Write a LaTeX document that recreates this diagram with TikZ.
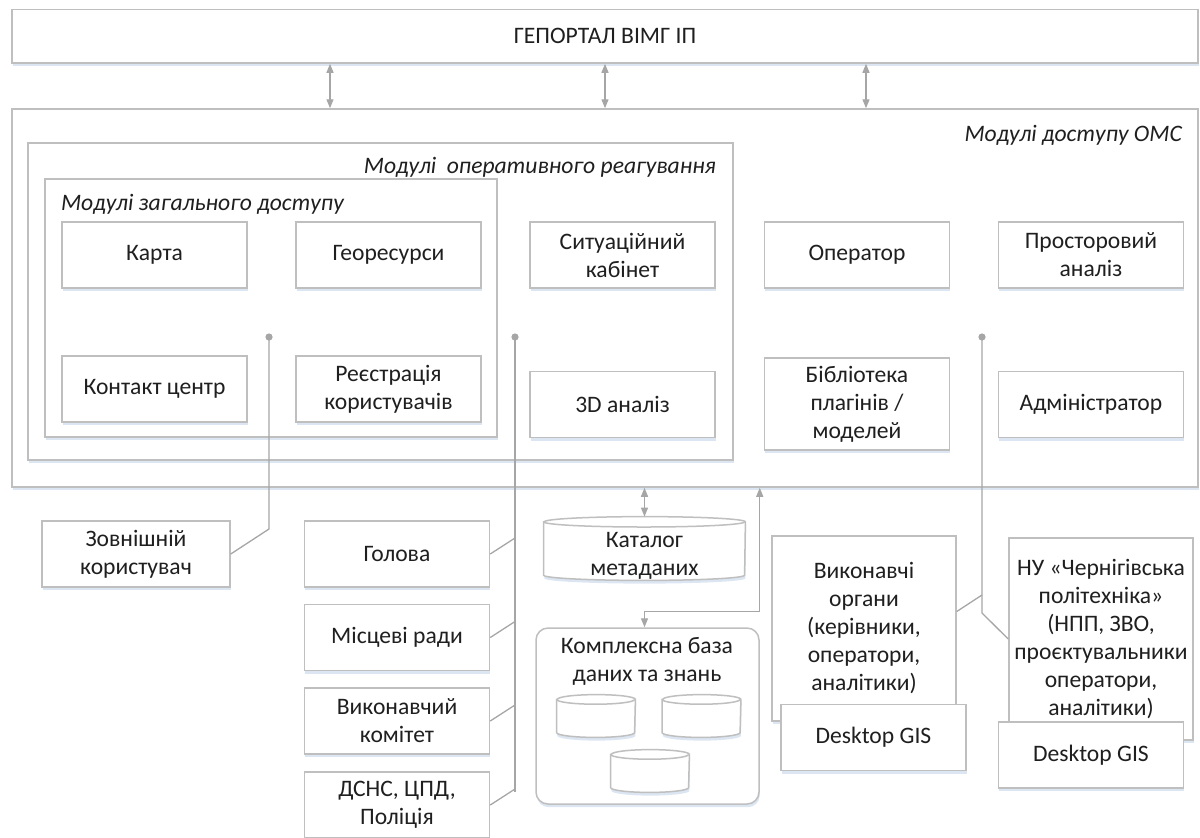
\documentclass[tikz,border=0pt]{standalone}
\usepackage{fontspec}
\setmainfont{Carlito}
\usetikzlibrary{positioning, arrows.meta, calc, shadows}
\definecolor{edge}{HTML}{BFBFBF}
\definecolor{wire}{HTML}{A6A6A6}
\definecolor{txt}{HTML}{1F1F1F}
\definecolor{glow}{HTML}{DCE6F2}

% drum: name, position, width, height, end radius, text
\newcommand{\drum}[6]{%
  \node[minimum width=#3, minimum height=#4, inner sep=0pt] (#1) at (#2) {};
  \filldraw[fill=white, draw=edge, line width=0.75pt, shd]
    ([yshift=-#5]#1.north west) -- ([yshift=#5]#1.south west)
    arc[start angle=180, end angle=360, x radius=#3/2, y radius=#5]
    -- ([yshift=-#5]#1.north east)
    arc[start angle=0, end angle=180, x radius=#3/2, y radius=#5] -- cycle;
  \draw[edge, line width=0.75pt] ([yshift=-#5]#1.north west)
    arc[start angle=180, end angle=360, x radius=#3/2, y radius=#5];
  \node[align=center] (#1-t) at ([yshift=-3.5pt]#1.center) {#6};
}

\begin{document}
\begin{tikzpicture}[x=0.5pt, y=-0.5pt, font=\fontsize{11.8}{14}\selectfont, text=txt,
  shd/.style={drop shadow={shadow xshift=0.4pt, shadow yshift=-1.6pt, fill=glow, opacity=1}},
  frame/.style={draw=edge, line width=0.75pt, fill=white, shd, inner sep=0pt},
  m/.style={frame, minimum width=92.5pt, minimum height=33pt, align=center},
  grp/.style={font=\fontsize{11.8}{14}\selectfont\itshape},
  ln/.style={wire, line width=0.65pt},
  dbl/.style={ln, {Triangle[length=4.5pt,width=3.5pt]}-{Triangle[length=4.5pt,width=3.5pt]}},
  dot/.style={circle, fill=wire, inner sep=0pt, minimum size=3.6pt}
]
  \useasboundingbox (0,0) rectangle (1200,837);

  % containers
  \node[frame, minimum width=593pt, minimum height=26.75pt] (portal) at (605,36.25) {ГЕПОРТАЛ ВІМГ ІП};
  \node[frame, minimum width=593pt, minimum height=189pt] (oms) at (605,298) {};
  \node[frame, minimum width=352.5pt, minimum height=158.5pt] (oper) at (380.5,301.5) {};
  \node[frame, minimum width=226pt, minimum height=129pt] (gen) at (271,308) {};

  \node[grp, anchor=east] (omsl) at (1189,135) {Модулі доступу ОМС};
  \node[grp, anchor=east] (operl) at (723,167) {Модулі\ \ оперативного реагування};
  \node[grp, anchor=west] (genl) at (54,204) {Модулі загального доступу};

  % modules
  \node[m] (map) at (154.5,255) {Карта};
  \node[m] (geo) at (388.5,255) {Георесурси};
  \node[m] (cc) at (154.5,389) {Контакт центр};
  \node[m] (reg) at (388.5,389) {Реєстрація\\користувачів};
  \node[m] (sit) at (622.5,255) {Ситуаційний\\кабінет};
  \node[m] (an3d) at (622.5,404.5) {3D аналіз};
  \node[m] (op) at (857,255) {Оператор};
  \node[m, minimum height=46pt] (lib) at (857,404) {Бібліотека\\плагінів /\\моделей};
  \node[m] (spa) at (1091,255) {Просторовий\\аналіз};
  \node[m] (adm) at (1091,404.5) {Адміністратор};

  % users
  \node[m, minimum width=94pt] (ext) at (136,554) {Зовнішній\\користувач};
  \node[m] (hol) at (397,554) {Голова};
  \node[m] (mis) at (397,637.5) {Місцеві ради};
  \node[m] (vk) at (397,721) {Виконавчий\\комітет};
  \node[m] (dsns) at (397,805) {ДСНС, ЦПД,\\Поліція};

  % data
  \drum{cat}{644.5,548.5}{100.5pt}{31.5pt}{2.6pt}{Каталог\\метаданих}
  \node[frame, rounded corners=6pt, minimum width=111.5pt, minimum height=88pt] (kb) at (647.5,716) {};
  \node[align=center] (kbl) at (647,661) {Комплексна база\\даних та знань};
  \drum{db1}{596,716}{39pt}{21pt}{2.4pt}{}
  \drum{db2}{701.5,716}{39pt}{21pt}{2.4pt}{}
  \drum{db3}{650,771}{39pt}{21pt}{2.4pt}{}

  % executors
  \node[m, minimum width=92pt, minimum height=92.5pt] (vo) at (864,628.5)
    {Виконавчі\\органи\\(керівники,\\оператори,\\аналітики)};
  \node[m] (gis1) at (873.5,737.5) {Desktop GIS};
  \node[m, minimum width=92pt, minimum height=101pt] (nu) at (1101,639)
    {НУ «Чернігівська\\політехніка»\\(НПП, ЗВО,\\проєктувальники\\оператори,\\аналітики)};
  \node[m] (gis2) at (1091,755) {Desktop GIS};

  % connectors
  \foreach \x in {330,605,866}
    \draw[dbl] (portal.south -| \x,0) -- (oms.north -| \x,0);
  \draw[dbl] (cat.north) -- (cat.north |- oms.south);
  \draw[dbl] (cat.south |- kb.north) -- ++(0,-16) -| (kb.east |- oms.south);

  \coordinate (d1) at (269,337);
  \coordinate (d2) at (515,337);
  \coordinate (d3) at (982,337);

  \draw[ln] (d1) -- (d1 |- 0,529) -- (ext.east);
  \draw[ln] (d2) -- (d2 |- 0,792);
  \foreach \n in {hol, mis, vk, dsns}
    \draw[ln] (\n.east) -- ($(\n.east -| d2)+(0,-16)$);
  \draw[ln] (d3) -- (d3 |- 0,613) -- (nu.west);
  \draw[ln] ([yshift=8.5pt]vo.east) -- (d3 |- 0,595);

  \foreach \d in {d1, d2, d3}
    \node[dot] at (\d) {};
\end{tikzpicture}
\end{document}
